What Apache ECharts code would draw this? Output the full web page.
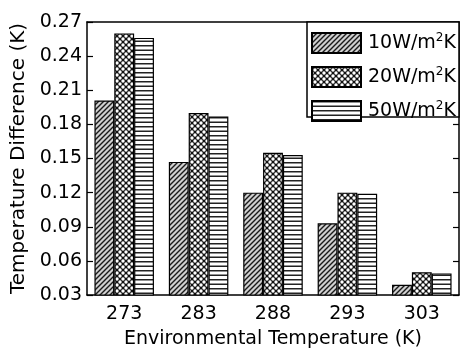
<!DOCTYPE html>
<html>
<head>
<meta charset="utf-8">
<script src="https://cdn.jsdelivr.net/npm/echarts@6/dist/echarts.min.js"></script>
<style>
  html, body { margin: 0; padding: 0; background: #fff; }
  #chart { width: 461px; height: 350px; }
</style>
</head>
<body>
<div id="chart"></div>
<script>
// Environmental temperature categories (K)
const categories = ['273', '283', '288', '293', '303'];
// Temperature difference (K) for each heat transfer coefficient
const series10 = [0.201, 0.147, 0.120, 0.093, 0.039];
const series20 = [0.260, 0.190, 0.155, 0.120, 0.050];
const series50 = [0.256, 0.187, 0.153, 0.119, 0.049];
const seriesNames = ['10W/m2K', '20W/m2K', '50W/m2K'];
// Value axis ticks
const yMin = 0.03, yMax = 0.27, yStep = 0.03;

const FONT = 'DejaVu Sans';

// Fill patterns drawn on small tiles
function tile(w, h, draw) {
  const c = document.createElement('canvas');
  c.width = w; c.height = h;
  draw(c.getContext('2d'), w, h);
  return c;
}
const hatchTile = tile(5, 5, (g, s) => {
  g.fillStyle = '#d0d0d0';
  g.fillRect(0, 0, s, s);
  g.strokeStyle = '#1a1a1a';
  g.lineWidth = 1.4;
  g.beginPath();
  g.moveTo(-1, s + 1); g.lineTo(s + 1, -1);
  g.moveTo(-1, 1); g.lineTo(1, -1);
  g.moveTo(s - 1, s + 1); g.lineTo(s + 1, s - 1);
  g.stroke();
});
const crossTile = tile(6, 6, (g, s) => {
  g.fillStyle = '#111';
  g.fillRect(0, 0, s, s);
  g.fillStyle = '#fff';
  [[0, 0], [s, 0], [0, s], [s, s], [s / 2, s / 2]].forEach(([x, y]) => {
    g.beginPath();
    g.arc(x, y, 1.7, 0, Math.PI * 2);
    g.fill();
  });
});
const lineTile = tile(4, 9, (g, w, h) => {
  g.fillStyle = '#fff';
  g.fillRect(0, 0, w, h);
  g.fillStyle = '#222';
  g.fillRect(0, 0, w, 1.5);
  g.fillRect(0, 4.5, w, 1.5);
});
const patterns = [hatchTile, crossTile, lineTile];
const values = [series10, series20, series50];

const chart = echarts.init(document.getElementById('chart'), null, { renderer: 'canvas' });

const axisLineStyle = { color: '#000', width: 1.5 };

chart.setOption({
  backgroundColor: '#fff',
  animation: false,
  textStyle: { fontFamily: FONT, color: '#000' },
  grid: { left: 87, right: 2, top: 22, bottom: 55, containLabel: false, outerBoundsMode: 'none' },
  legend: {
    orient: 'vertical',
    left: 311,
    top: 32,
    padding: 0,
    itemWidth: 49,
    itemHeight: 20,
    itemGap: 12,
    selectedMode: false,
    z: 8,
    icon: 'rect',
    formatter: name => name.replace('m2K', 'm{sup|2}K'),
    textStyle: {
      fontFamily: FONT,
      fontSize: 19,
      color: '#000',
      padding: [0, 0, 0, 2],
      rich: {
        sup: { fontFamily: FONT, fontSize: 12, color: '#000', padding: [0, 0, 10, 0] }
      }
    }
  },
  graphic: [{
    type: 'rect',
    z: 7,
    shape: { x: 307, y: 22, width: 152, height: 95 },
    style: { fill: '#fff', stroke: '#000', lineWidth: 1.5 }
  }],
  xAxis: [{
    type: 'category',
    data: categories,
    position: 'bottom',
    axisLine: { lineStyle: axisLineStyle },
    axisTick: { alignWithLabel: true, inside: false, length: 6, lineStyle: { color: '#000', width: 1.2 } },
    axisLabel: { fontFamily: FONT, fontSize: 19, color: '#000', margin: 10 },
    name: 'Environmental Temperature (K)',
    nameLocation: 'middle',
    nameGap: 35,
    nameTextStyle: { fontFamily: FONT, fontSize: 19, color: '#000', verticalAlign: 'top' }
  }, {
    type: 'category',
    data: categories,
    position: 'top',
    axisLine: { lineStyle: axisLineStyle },
    axisTick: { alignWithLabel: true, inside: true, length: 6, lineStyle: { color: '#000', width: 1.2 } },
    axisLabel: { show: false }
  }],
  yAxis: [{
    type: 'value',
    min: yMin, max: yMax, interval: yStep,
    position: 'left',
    axisLine: { show: true, lineStyle: axisLineStyle },
    axisTick: { show: true, inside: true, length: 6, lineStyle: { color: '#000', width: 1.2 } },
    splitLine: { show: false },
    axisLabel: {
      fontFamily: FONT, fontSize: 19, color: '#000', margin: 5,
      formatter: v => v.toFixed(2)
    },
    name: 'Temperature Difference (K)',
    nameLocation: 'middle',
    nameGap: 58,
    nameTextStyle: { fontFamily: FONT, fontSize: 20, color: '#000' }
  }, {
    type: 'value',
    min: yMin, max: yMax, interval: yStep,
    position: 'right',
    axisLine: { show: true, lineStyle: axisLineStyle },
    axisTick: { show: true, inside: true, length: 6, lineStyle: { color: '#000', width: 1.2 } },
    splitLine: { show: false },
    axisLabel: { show: false }
  }],
  series: seriesNames.map((name, i) => ({
    name: name,
    type: 'bar',
    xAxisIndex: 0,
    yAxisIndex: 0,
    data: values[i],
    barGap: '0%',
    barCategoryGap: '20%',
    itemStyle: {
      color: { image: patterns[i], repeat: 'repeat' },
      borderColor: '#000',
      borderWidth: 1.2
    },
    emphasis: { disabled: true }
  }))
});
</script>
</body>
</html>
